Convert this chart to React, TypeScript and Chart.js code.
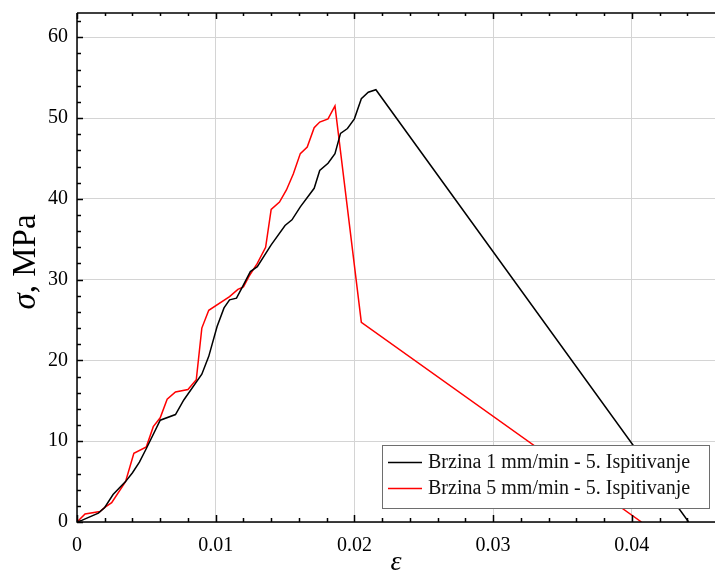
import React, { useEffect, useRef } from "react";
import { Chart, registerables } from "chart.js";

Chart.register(...registerables);

// Series 1: Brzina 1 mm/min
const strain1 = [0, 0.00034, 0.00154, 0.002, 0.0026, 0.0035, 0.004, 0.0045, 0.005, 0.006, 0.0071, 0.0077, 0.009, 0.0095, 0.0101, 0.0106, 0.011, 0.0115, 0.0119, 0.0125, 0.013, 0.014, 0.015, 0.0155, 0.0161, 0.0171, 0.0175, 0.0181, 0.0186, 0.019, 0.0195, 0.02, 0.0205, 0.021, 0.02155, 0.0441];
const stress1 = [0, 0.2, 1.1, 1.8, 3.4, 5.0, 6.1, 7.4, 9.1, 12.6, 13.3, 15.1, 18.3, 20.5, 24.2, 26.5, 27.5, 27.7, 29.0, 31.0, 31.6, 34.3, 36.7, 37.4, 39.0, 41.3, 43.5, 44.4, 45.6, 48.1, 48.7, 49.9, 52.4, 53.2, 53.5, 0];

// Series 2: Brzina 5 mm/min
const strain2 = [0, 0.00058, 0.00166, 0.002, 0.0025, 0.0035, 0.0041, 0.005, 0.0055, 0.006, 0.0065, 0.0071, 0.008, 0.0086, 0.009, 0.0095, 0.011, 0.0116, 0.012, 0.0124, 0.013, 0.0136, 0.014, 0.0146, 0.0151, 0.0156, 0.0161, 0.0166, 0.0171, 0.0175, 0.0181, 0.0186, 0.0205, 0.0407];
const stress2 = [0, 1.0, 1.3, 1.8, 2.4, 5.0, 8.5, 9.3, 11.8, 12.9, 15.2, 16.1, 16.4, 17.6, 24.0, 26.2, 27.9, 28.8, 29.1, 30.4, 32.0, 34.0, 38.7, 39.6, 41.1, 43.1, 45.6, 46.4, 48.8, 49.5, 49.9, 51.5, 24.7, 0];

const seriesLabels = ["Brzina 1 mm/min - 5. Ispitivanje", "Brzina 5 mm/min - 5. Ispitivanje"];
const seriesColors = ["#000000", "#ff0000"];

const xTitle = "ε";
const yTitleSymbol = "σ";
const yTitleUnit = ", MPa";

const SERIF = '"Liberation Serif", "Times New Roman", serif';

const framePlugin = {
  id: "framePlugin",
  afterDatasetsDraw(chart: any) {
    const ctx = chart.ctx;
    const { left, right, top, bottom } = chart.chartArea;
    const xs = chart.scales.x;
    const ys = chart.scales.y;
    ctx.save();
    ctx.strokeStyle = "#000";
    ctx.lineWidth = 1.5;
    // frame lines: left, bottom, top
    ctx.beginPath();
    ctx.moveTo(left, top);
    ctx.lineTo(left, bottom);
    ctx.lineTo(right, bottom);
    ctx.moveTo(left, top);
    ctx.lineTo(right, top);
    ctx.stroke();
    // x ticks (inward), every 0.002, major every 0.01
    for (let i = 0; i <= 23; i++) {
      const v = i * 0.002;
      const px = Math.round(xs.getPixelForValue(v)) + 0.5;
      if (px > right) break;
      const major = i % 5 === 0;
      const len = major ? 7 : 4;
      ctx.beginPath();
      ctx.moveTo(px, bottom);
      ctx.lineTo(px, bottom - len);
      ctx.moveTo(px, top);
      ctx.lineTo(px, top + (major ? 6 : 3));
      ctx.stroke();
    }
    // y ticks (inward), every 2, major every 10
    for (let i = 0; i <= 31; i++) {
      const v = i * 2;
      const py = Math.round(ys.getPixelForValue(v)) + 0.5;
      if (py < top) break;
      const major = i % 5 === 0;
      const len = major ? 6 : 4;
      ctx.beginPath();
      ctx.moveTo(left, py);
      ctx.lineTo(left + len, py);
      ctx.stroke();
    }

    // legend box
    const bx = 382, by = 445, bw = 327, bh = 63;
    ctx.fillStyle = "#ffffff";
    ctx.fillRect(bx, by, bw, bh);
    ctx.strokeStyle = "#6e6e6e";
    ctx.lineWidth = 1;
    ctx.strokeRect(bx + 0.5, by + 0.5, bw, bh);
    ctx.font = `20px ${SERIF}`;
    ctx.textBaseline = "middle";
    ctx.textAlign = "left";
    chart.data.datasets.forEach((ds: any, i: number) => {
      const ry = 462 + i * 26;
      ctx.strokeStyle = ds.borderColor;
      ctx.lineWidth = 1.5;
      ctx.beginPath();
      ctx.moveTo(388, ry + 0.5);
      ctx.lineTo(422, ry + 0.5);
      ctx.stroke();
      ctx.fillStyle = "#111";
      ctx.fillText(ds.label, 428, ry + 1);
    });

    // axis titles
    ctx.fillStyle = "#000";
    ctx.font = `italic 28px ${SERIF}`;
    ctx.textAlign = "center";
    ctx.textBaseline = "middle";
    ctx.fillText(xTitle, (left + right) / 2, 563);

    ctx.save();
    ctx.translate(26, 262);
    ctx.rotate(-Math.PI / 2);
    ctx.font = `italic 33px ${SERIF}`;
    const w1 = ctx.measureText(yTitleSymbol).width;
    ctx.font = `33px ${SERIF}`;
    const w2 = ctx.measureText(yTitleUnit).width;
    const start = -(w1 + w2) / 2;
    ctx.textAlign = "left";
    ctx.font = `italic 33px ${SERIF}`;
    ctx.fillText(yTitleSymbol, start, 0);
    ctx.font = `33px ${SERIF}`;
    ctx.fillText(yTitleUnit, start + w1, 0);
    ctx.restore();

    ctx.restore();
  },
};

export default function App() {
  const canvasRef = useRef<HTMLCanvasElement | null>(null);

  useEffect(() => {
    if (!canvasRef.current) return;
    const chart = new Chart(canvasRef.current, {
      type: "line",
      data: {
        datasets: [
          {
            label: seriesLabels[0],
            data: strain1.map((x, i) => ({ x, y: stress1[i] })),
            borderColor: seriesColors[0],
            backgroundColor: seriesColors[0],
            borderWidth: 1.5,
            pointRadius: 0,
            tension: 0,
          },
          {
            label: seriesLabels[1],
            data: strain2.map((x, i) => ({ x, y: stress2[i] })),
            borderColor: seriesColors[1],
            backgroundColor: seriesColors[1],
            borderWidth: 1.5,
            pointRadius: 0,
            tension: 0,
          },
        ],
      },
      options: {
        animation: false,
        responsive: false,
        maintainAspectRatio: false,
        layout: { padding: { top: 13, right: 0, left: 0, bottom: 0 } },
        plugins: {
          legend: { display: false },
          tooltip: { enabled: false },
        },
        scales: {
          x: {
            type: "linear",
            min: 0,
            max: 0.046,
            border: { display: false },
            grid: { color: "#d4d4d4", lineWidth: 1, drawTicks: false },
            ticks: {
              stepSize: 0.01,
              includeBounds: false,
              padding: 12,
              color: "#000",
              font: { family: SERIF, size: 20 },
              callback: (v: any) => String(Number(Number(v).toFixed(3))),
            },
            afterFit: (s: any) => {
              s.height = 52;
              s.paddingLeft = 0;
              s.paddingRight = 0;
            },
          },
          y: {
            type: "linear",
            min: 0,
            max: 63,
            border: { display: false },
            grid: { color: "#d4d4d4", lineWidth: 1, drawTicks: false },
            ticks: {
              stepSize: 10,
              includeBounds: false,
              padding: 9,
              color: "#000",
              font: { family: SERIF, size: 20 },
            },
            afterFit: (s: any) => {
              s.width = 77;
              s.paddingTop = 0;
              s.paddingBottom = 0;
            },
          },
        },
      },
      plugins: [framePlugin],
    });
    return () => chart.destroy();
  }, []);

  return (
    <div style={{ position: "fixed", left: 0, top: 0, width: 715, height: 574, background: "#fff" }}>
      <canvas ref={canvasRef} width={715} height={574} style={{ width: 715, height: 574, display: "block" }} />
    </div>
  );
}
